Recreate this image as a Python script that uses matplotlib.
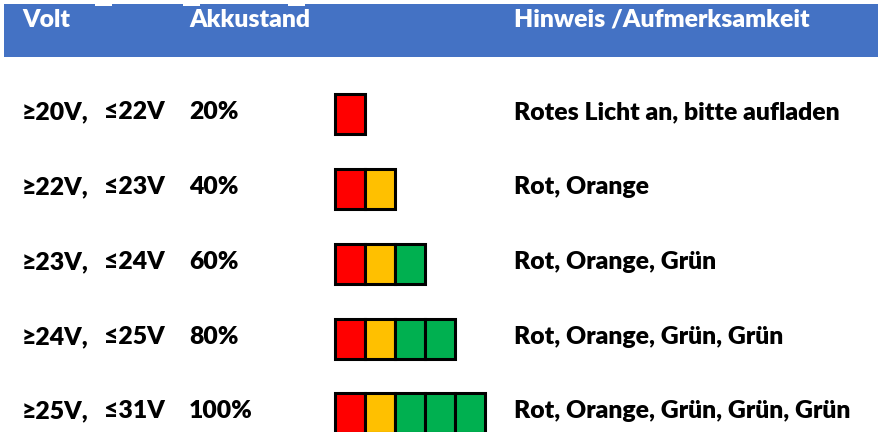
import matplotlib.pyplot as plt
from matplotlib.patches import Rectangle

# table content
headers = ["Volt", "Akkustand", "Hinweis /Aufmerksamkeit"]
volt_low = ["≥20V,", "≥22V,", "≥23V,", "≥24V,", "≥25V,"]
volt_high = ["≤22V", "≤23V", "≤24V", "≤25V", "≤31V"]
percent = [20, 40, 60, 80, 100]
hints = ["Rotes Licht an, bitte aufladen",
         "Rot, Orange",
         "Rot, Orange, Grün",
         "Rot, Orange, Grün, Grün",
         "Rot, Orange, Grün, Grün, Grün"]
cell_colors = ["#FF0000", "#FFC000", "#00B050", "#00B050", "#00B050"]

# layout (pixel units)
W, H = 879, 432
row_y = [112, 187, 262, 337, 411]
col_x = [22, 104, 189, 514]
bar_x0, cell_w, cell_h = 335, 30, 40

fig = plt.figure(figsize=(W / 100, H / 100), dpi=100)
ax = fig.add_axes([0, 0, 1, 1])
ax.set_xlim(0, W)
ax.set_ylim(H, 0)
ax.axis("off")

# header band
ax.add_patch(Rectangle((4, 4), W - 4, 53, color="#4472C4", lw=0))
for gx in [95, 183, 288]:
    ax.add_patch(Rectangle((gx, 3), 17, 2.5, color="white", lw=0))

font = dict(family=["Lato", "DejaVu Sans"], fontweight="heavy", fontsize=17.8)
hx = [col_x[0], col_x[2], col_x[3]]
for x, h in zip(hx, headers):
    ax.text(x, 20, h, color="white", va="center", ha="left", **font)

for i in range(len(percent)):
    y = row_y[i]
    ax.text(col_x[0], y, volt_low[i], color="black", va="center", **font)
    ax.text(col_x[1], y, volt_high[i], color="black", va="center", **font)
    ax.text(col_x[2], y, f"{percent[i]}%", color="black", va="center", **font)
    ax.text(col_x[3], y, hints[i], color="black", va="center", **font)
    n = percent[i] // 20
    lefts = [bar_x0 + k * cell_w for k in range(n)]
    ax.barh([y + 2] * n, [cell_w] * n, left=lefts, height=cell_h,
            color=cell_colors[:n], edgecolor="black", linewidth=2.2)

fig.savefig("out.png", dpi=100)
